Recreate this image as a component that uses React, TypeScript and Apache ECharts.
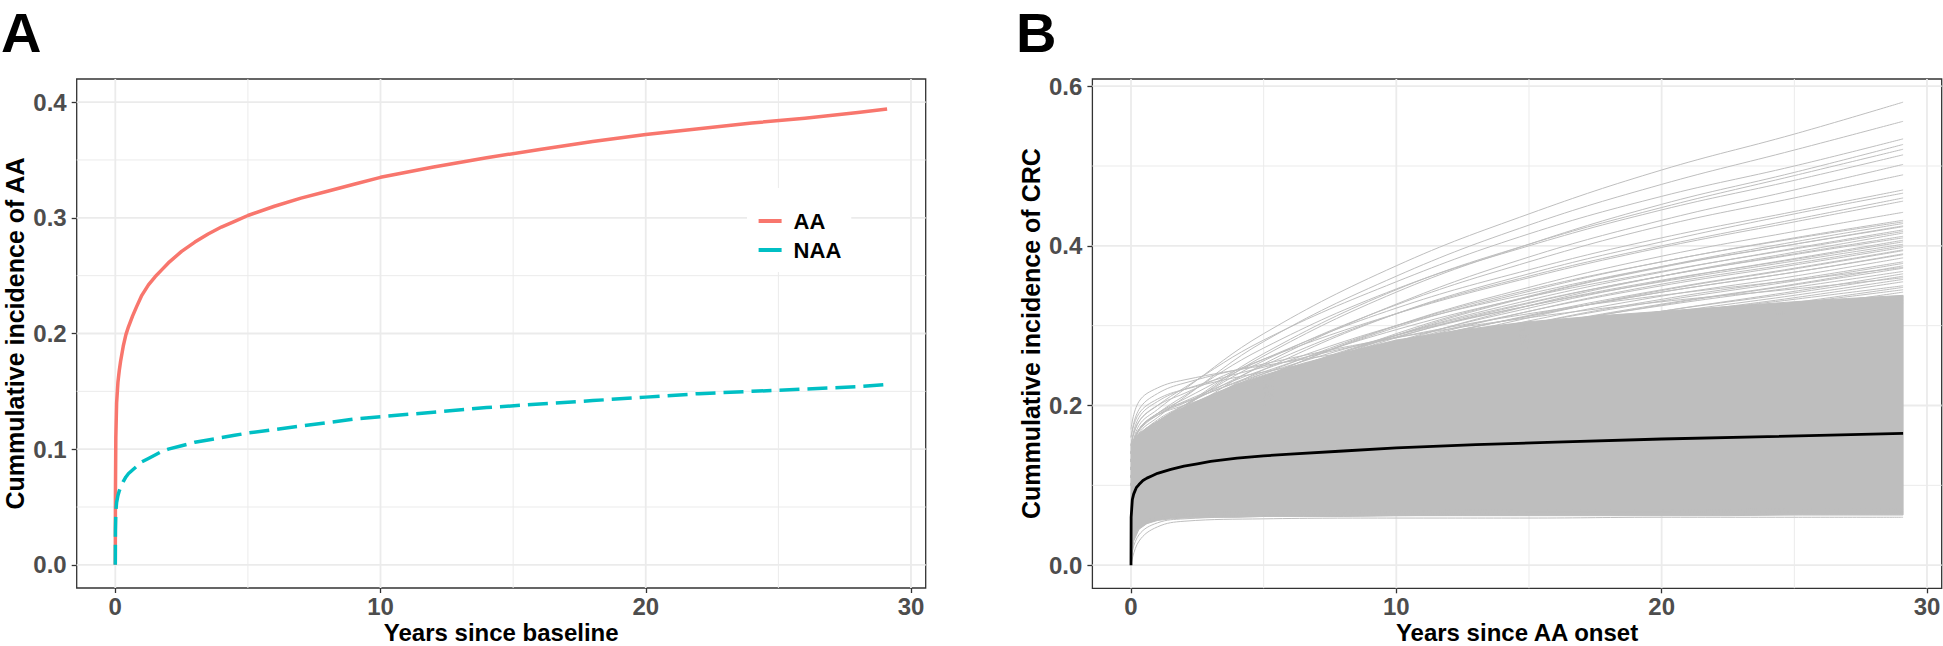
import React, { useEffect, useRef } from "react";
import * as echarts from "echarts";

// ---------- tick values ----------
const xTicks = [0, 10, 20, 30];
const xMinorTicks = [5, 15, 25];
const yTicksA = [0, 0.1, 0.2, 0.3, 0.4];
const yMinorA = [0.05, 0.15, 0.25, 0.35];
const yTicksB = [0, 0.2, 0.4, 0.6];
const yMinorB = [0.1, 0.3, 0.5];

// ---------- panel A data ----------
const yearsA = [0, 0.005, 0.02, 0.05, 0.1, 0.15, 0.2, 0.3, 0.4, 0.5, 0.65, 0.8, 1, 1.25, 1.5, 1.75, 2, 2.5, 3, 3.5, 4, 4.5, 5, 6, 7, 8, 9, 10, 12, 14, 16, 18, 20, 22, 24, 26, 28, 29.1];
const aaValues = [0, 0.06, 0.11, 0.14, 0.158, 0.168, 0.176, 0.189, 0.199, 0.206, 0.215, 0.223, 0.233, 0.242, 0.249, 0.255, 0.261, 0.271, 0.279, 0.286, 0.292, 0.297, 0.302, 0.31, 0.317, 0.323, 0.329, 0.335, 0.344, 0.352, 0.359, 0.366, 0.372, 0.377, 0.382, 0.386, 0.391, 0.394];
const naaValues = [0, 0.03, 0.046, 0.054, 0.06, 0.064, 0.067, 0.072, 0.076, 0.079, 0.082, 0.085, 0.089, 0.092, 0.095, 0.098, 0.1, 0.103, 0.106, 0.108, 0.11, 0.112, 0.114, 0.117, 0.12, 0.123, 0.126, 0.128, 0.132, 0.136, 0.139, 0.142, 0.145, 0.148, 0.15, 0.152, 0.154, 0.156];

// ---------- panel B data ----------
const yearsMean = [0, 0.005, 0.05, 0.1, 0.15, 0.2, 0.3, 0.45, 0.6, 0.8, 1, 1.5, 2, 2.5, 3, 4, 5, 6, 8, 10, 13, 16, 20, 24, 29.1];
const meanValues = [0, 0.06, 0.082, 0.089, 0.093, 0.097, 0.101, 0.106, 0.109, 0.112, 0.115, 0.12, 0.124, 0.127, 0.13, 0.134, 0.137, 0.139, 0.143, 0.147, 0.151, 0.154, 0.158, 0.161, 0.165];

// solid (densely overlapping) part of the simulated curves
const bandYears = [0, 0.1, 0.3, 0.6, 1, 1.5, 2, 3, 4, 5, 6.5, 8, 10, 12.5, 15, 17.5, 20, 22.5, 25, 27, 29.1];
const bandLower = [0, 0.03, 0.045, 0.052, 0.056, 0.058, 0.059, 0.06, 0.06, 0.061, 0.061, 0.061, 0.062, 0.062, 0.062, 0.062, 0.062, 0.062, 0.063, 0.063, 0.063];
const bandUpper = [0.15, 0.158, 0.165, 0.172, 0.18, 0.19, 0.198, 0.213, 0.227, 0.238, 0.253, 0.266, 0.282, 0.295, 0.305, 0.312, 0.318, 0.324, 0.33, 0.334, 0.338];

// individually visible simulated curves
const simYears = [0, 0.3, 1, 2, 5, 10, 15, 20, 25, 29.1];
const simCurves = [
  [0.14, 0.175, 0.195, 0.22, 0.29, 0.375, 0.44, 0.495, 0.54, 0.58],
  [0.13, 0.165, 0.185, 0.21, 0.28, 0.362, 0.426, 0.477, 0.52, 0.556],
  [0.15, 0.18, 0.2, 0.222, 0.282, 0.355, 0.415, 0.462, 0.5, 0.534],
  [0.12, 0.155, 0.175, 0.198, 0.262, 0.342, 0.402, 0.452, 0.492, 0.527],
  [0.13, 0.16, 0.18, 0.2, 0.265, 0.345, 0.402, 0.448, 0.488, 0.521],
  [0.14, 0.17, 0.19, 0.212, 0.272, 0.346, 0.4, 0.445, 0.482, 0.514],
  [0.12, 0.15, 0.172, 0.192, 0.252, 0.327, 0.386, 0.432, 0.47, 0.502],
  [0.13, 0.16, 0.18, 0.2, 0.256, 0.326, 0.38, 0.425, 0.46, 0.489],
  [0.14, 0.17, 0.19, 0.208, 0.258, 0.322, 0.37, 0.41, 0.443, 0.47],
  [0.12, 0.15, 0.17, 0.19, 0.245, 0.315, 0.365, 0.405, 0.44, 0.466],
  [0.13, 0.16, 0.182, 0.2, 0.25, 0.315, 0.362, 0.4, 0.433, 0.46],
  [0.15, 0.18, 0.2, 0.215, 0.258, 0.315, 0.36, 0.398, 0.43, 0.456],
  [0.12, 0.148, 0.168, 0.185, 0.235, 0.3, 0.348, 0.387, 0.418, 0.442],
  [0.13, 0.16, 0.18, 0.197, 0.24, 0.3, 0.345, 0.38, 0.41, 0.432],
  [0.11, 0.14, 0.16, 0.178, 0.225, 0.29, 0.337, 0.374, 0.405, 0.428],
  [0.14, 0.168, 0.188, 0.205, 0.245, 0.3, 0.34, 0.374, 0.402, 0.424],
  [0.12, 0.15, 0.17, 0.186, 0.23, 0.288, 0.332, 0.367, 0.397, 0.42],
  [0.1, 0.13, 0.15, 0.168, 0.215, 0.278, 0.325, 0.362, 0.392, 0.416],
  [0.13, 0.16, 0.178, 0.194, 0.234, 0.288, 0.329, 0.362, 0.39, 0.412],
  [0.11, 0.14, 0.16, 0.176, 0.22, 0.28, 0.322, 0.356, 0.384, 0.407],
  [0.14, 0.17, 0.19, 0.204, 0.24, 0.288, 0.325, 0.355, 0.381, 0.402],
  [0.12, 0.15, 0.168, 0.184, 0.224, 0.278, 0.318, 0.35, 0.376, 0.398],
  [0.1, 0.13, 0.148, 0.165, 0.208, 0.268, 0.31, 0.344, 0.371, 0.394],
  [0.13, 0.16, 0.178, 0.192, 0.228, 0.276, 0.312, 0.342, 0.367, 0.389],
  [0.11, 0.14, 0.158, 0.174, 0.214, 0.268, 0.306, 0.337, 0.362, 0.385],
  [0.12, 0.15, 0.168, 0.182, 0.218, 0.266, 0.302, 0.331, 0.356, 0.378],
  [0.1, 0.128, 0.146, 0.162, 0.204, 0.258, 0.296, 0.326, 0.351, 0.372],
  [0.13, 0.158, 0.176, 0.19, 0.222, 0.265, 0.298, 0.325, 0.348, 0.368],
  [0.11, 0.138, 0.156, 0.17, 0.208, 0.256, 0.29, 0.318, 0.341, 0.362],
  [0.12, 0.148, 0.165, 0.178, 0.212, 0.255, 0.287, 0.313, 0.335, 0.355],
  [0.1, 0.128, 0.145, 0.16, 0.198, 0.247, 0.281, 0.307, 0.329, 0.348],
  [0.12, 0.15, 0.166, 0.178, 0.208, 0.248, 0.278, 0.302, 0.323, 0.342],
  [0.11, 0.138, 0.155, 0.168, 0.2, 0.242, 0.272, 0.296, 0.317, 0.336],
  [0.12, 0.152, 0.172, 0.19, 0.236, 0.298, 0.343, 0.38, 0.409, 0.43],
  [0.1, 0.132, 0.152, 0.17, 0.222, 0.288, 0.336, 0.373, 0.402, 0.425],
  [0.14, 0.17, 0.188, 0.203, 0.242, 0.295, 0.336, 0.368, 0.396, 0.418],
  [0.11, 0.142, 0.162, 0.18, 0.226, 0.285, 0.328, 0.362, 0.389, 0.41],
  [0.13, 0.162, 0.18, 0.195, 0.234, 0.286, 0.325, 0.357, 0.383, 0.405],
  [0.1, 0.13, 0.15, 0.168, 0.214, 0.275, 0.318, 0.352, 0.378, 0.4],
  [0.12, 0.15, 0.168, 0.183, 0.222, 0.274, 0.313, 0.345, 0.372, 0.395],
  [0.14, 0.17, 0.188, 0.2, 0.232, 0.277, 0.312, 0.342, 0.367, 0.39],
  [0.11, 0.14, 0.158, 0.173, 0.21, 0.262, 0.302, 0.333, 0.358, 0.38],
  [0.13, 0.16, 0.176, 0.188, 0.22, 0.264, 0.298, 0.327, 0.352, 0.375],
  [0.12, 0.15, 0.166, 0.178, 0.21, 0.255, 0.29, 0.318, 0.343, 0.365],
  [0.1, 0.13, 0.148, 0.162, 0.198, 0.25, 0.287, 0.315, 0.338, 0.358],
  [0.13, 0.16, 0.176, 0.188, 0.218, 0.258, 0.288, 0.313, 0.333, 0.35],
  [0.11, 0.14, 0.157, 0.17, 0.205, 0.25, 0.283, 0.308, 0.328, 0.345],
  [0.17, 0.205, 0.222, 0.232, 0.25, 0.275, 0.295, 0.31, 0.322, 0.332],
  [0.16, 0.195, 0.215, 0.228, 0.252, 0.285, 0.31, 0.33, 0.346, 0.36],
  [0.15, 0.185, 0.205, 0.22, 0.248, 0.285, 0.315, 0.338, 0.357, 0.373],
  [0.16, 0.19, 0.208, 0.22, 0.242, 0.27, 0.29, 0.305, 0.318, 0.328],
  [0.0, 0.03, 0.048, 0.055, 0.058, 0.059, 0.059, 0.06, 0.06, 0.06],
  [0.01, 0.038, 0.053, 0.058, 0.061, 0.062, 0.063, 0.063, 0.063, 0.063],
  [0.02, 0.045, 0.057, 0.061, 0.064, 0.065, 0.066, 0.066, 0.067, 0.067],
  [0.03, 0.05, 0.06, 0.064, 0.067, 0.068, 0.069, 0.069, 0.07, 0.07],
];

// ---------- layout / style ----------
const FONT = "'Liberation Sans', Arial, Helvetica, sans-serif";
const X_MIN = -1.455;
const X_MAX = 30.555;
const A_YMIN = -0.02;
const A_YMAX = 0.42;
const B_YMIN = -0.029;
const B_YMAX = 0.609;
const GRID_COLOR = "#EBEBEB";
const SIM_COLOR = "#BEBEBE";

const GRID_A = { left: 76.7, top: 79, width: 849, height: 509 };
const GRID_B = { left: 1092.4, top: 79, width: 849.3, height: 509.3 };

function gridSeries(idx: number, xs: number[], ys: number[], ymin: number, ymax: number, w: number) {
  const out: any[] = [];
  xs.forEach((t) =>
    out.push({
      type: "line", xAxisIndex: idx, yAxisIndex: idx, silent: true, symbol: "none", z: 1,
      data: [[t, ymin], [t, ymax]], lineStyle: { color: GRID_COLOR, width: w },
    })
  );
  ys.forEach((v) =>
    out.push({
      type: "line", xAxisIndex: idx, yAxisIndex: idx, silent: true, symbol: "none", z: 1,
      data: [[X_MIN, v], [X_MAX, v]], lineStyle: { color: GRID_COLOR, width: w },
    })
  );
  return out;
}

function xAxisOf(idx: number) {
  return {
    type: "value", gridIndex: idx, min: X_MIN, max: X_MAX,
    axisLine: { show: false, onZero: false },
    axisTick: { show: true, inside: false, length: 5, customValues: xTicks, lineStyle: { color: "#333333", width: 1.3 } },
    axisLabel: { customValues: xTicks, margin: 6, fontSize: 24, lineHeight: 24, fontWeight: "bold", color: "#4D4D4D", fontFamily: FONT },
    splitLine: { show: false },
  };
}

function yAxisOf(idx: number, name: string, ymin: number, ymax: number, ticks: number[]) {
  return {
    type: "value", gridIndex: idx, min: ymin, max: ymax,
    name, nameLocation: "middle", nameGap: 49,
    nameTextStyle: { fontSize: 25, fontWeight: "bold", color: "#000", fontFamily: FONT },
    axisLine: { show: false, onZero: false },
    axisTick: { show: true, inside: false, length: 5, customValues: ticks, lineStyle: { color: "#333333", width: 1.3 } },
    axisLabel: {
      customValues: ticks, margin: 10, fontSize: 24, fontWeight: "bold", color: "#4D4D4D", fontFamily: FONT,
      formatter: (v: number) => v.toFixed(1),
    },
    splitLine: { show: false },
  };
}

function xTitle(text: string, g: { left: number; width: number }) {
  return {
    type: "text", x: g.left + g.width / 2, y: 644, z: 10,
    style: {
      text, fill: "#000", font: `bold 24px ${FONT}`, lineHeight: 24,
      textAlign: "center", textVerticalAlign: "bottom",
    },
  };
}

export default function App() {
  const ref = useRef<HTMLDivElement>(null);
  useEffect(() => {
    if (!ref.current) return;
    const chart = echarts.init(ref.current, undefined, { renderer: "svg" });

    const series: any[] = [
      ...gridSeries(0, xMinorTicks, yMinorA, A_YMIN, A_YMAX, 1),
      ...gridSeries(0, xTicks, yTicksA, A_YMIN, A_YMAX, 1.8),
      ...gridSeries(1, xMinorTicks, yMinorB, B_YMIN, B_YMAX, 1),
      ...gridSeries(1, xTicks, yTicksB, B_YMIN, B_YMAX, 1.8),
      {
        name: "AA", type: "line", xAxisIndex: 0, yAxisIndex: 0, z: 3,
        data: yearsA.map((x, i) => [x, aaValues[i]]),
        symbol: "none", smooth: false,
        itemStyle: { color: "#F8766D" },
        lineStyle: { color: "#F8766D", width: 3.5, join: "round" },
      },
      {
        name: "NAA", type: "line", xAxisIndex: 0, yAxisIndex: 0, z: 3,
        data: yearsA.map((x, i) => [x, naaValues[i]]),
        symbol: "none", smooth: false,
        itemStyle: { color: "#00BFC4" },
        lineStyle: { color: "#00BFC4", width: 3.5, type: [20, 8], join: "round" },
      },
      {
        type: "custom", xAxisIndex: 1, yAxisIndex: 1, z: 2, silent: true,
        data: [[0, 0]],
        renderItem: (_params: any, api: any) => {
          const pts: number[][] = [];
          bandYears.forEach((x, i) => pts.push(api.coord([x, bandUpper[i]])));
          for (let i = bandYears.length - 1; i >= 0; i--) pts.push(api.coord([bandYears[i], bandLower[i]]));
          return {
            type: "polygon",
            shape: { points: pts },
            style: { fill: SIM_COLOR, stroke: SIM_COLOR, lineWidth: 1 },
          };
        },
      },
      ...simCurves.map((c) => ({
        type: "line", xAxisIndex: 1, yAxisIndex: 1, z: 2, silent: true,
        data: simYears.map((x, i) => [x, c[i]]),
        symbol: "none", smooth: 0.4,
        lineStyle: { width: 1, color: SIM_COLOR },
      })),
      {
        type: "line", xAxisIndex: 1, yAxisIndex: 1, z: 4, silent: true,
        data: yearsMean.map((x, i) => [x, meanValues[i]]),
        symbol: "none", smooth: false,
        lineStyle: { width: 2.8, color: "#000000", join: "round" },
      },
    ];

    chart.setOption({
      animation: false,
      backgroundColor: "#FFFFFF",
      textStyle: { fontFamily: FONT },
      title: [
        { text: "A", left: 1, top: 4, padding: 0, textStyle: { fontSize: 56, lineHeight: 56, fontWeight: "bold", color: "#000", fontFamily: FONT } },
        { text: "B", left: 1016, top: 4, padding: 0, textStyle: { fontSize: 56, lineHeight: 56, fontWeight: "bold", color: "#000", fontFamily: FONT } },
      ],
      legend: {
        data: ["AA", "NAA"], orient: "vertical", left: 747, top: 188,
        padding: [22, 10, 11, 11.6], itemGap: 7, itemWidth: 23, itemHeight: 4, icon: "rect",
        backgroundColor: "#FFFFFF",
        itemStyle: { borderWidth: 0 },
        textStyle: { fontSize: 22, fontWeight: "bold", color: "#000", fontFamily: FONT, padding: [0, 0, 0, 7] },
        selectedMode: false,
      },
      grid: [
        { ...GRID_A, show: true, borderColor: "#333333", borderWidth: 1.3, backgroundColor: "transparent", containLabel: false, outerBoundsMode: "none" },
        { ...GRID_B, show: true, borderColor: "#333333", borderWidth: 1.3, backgroundColor: "transparent", containLabel: false, outerBoundsMode: "none" },
      ],
      xAxis: [xAxisOf(0), xAxisOf(1)],
      yAxis: [
        yAxisOf(0, "Cummulative incidence of AA", A_YMIN, A_YMAX, yTicksA),
        yAxisOf(1, "Cummulative incidence of CRC", B_YMIN, B_YMAX, yTicksB),
      ],
      graphic: [xTitle("Years since baseline", GRID_A), xTitle("Years since AA onset", GRID_B)],
      series,
    });
    return () => chart.dispose();
  }, []);

  return (
    <div
      ref={ref}
      style={{ position: "fixed", left: 0, top: 0, width: 1943, height: 646, background: "#fff" }}
    />
  );
}
